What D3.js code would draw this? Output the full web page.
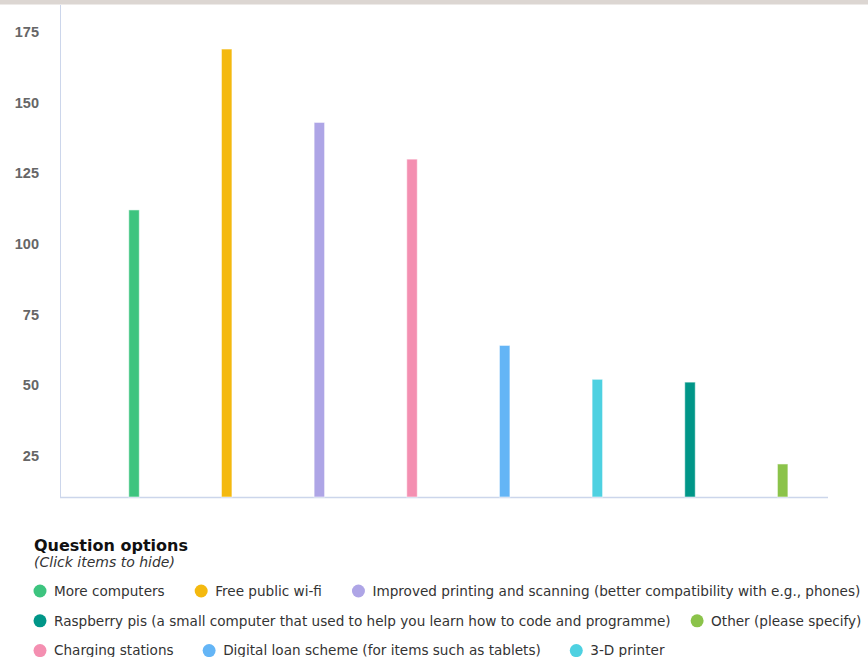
<!DOCTYPE html>
<html>
<head>
<meta charset="utf-8">
<script src="https://cdn.jsdelivr.net/npm/d3@7"></script>
<style>
  html, body { margin: 0; padding: 0; background: #fff; }
  svg { display: block; }
</style>
</head>
<body>
<svg id="chart" width="868" height="657"></svg>
<script>
// Survey answers: how many respondents picked each option
const categories = [
  "More computers",
  "Free public wi-fi",
  "Improved printing and scanning (better compatibility with e.g., phones)",
  "Charging stations",
  "Digital loan scheme (for items such as tablets)",
  "3-D printer",
  "Raspberry pis (a small computer that used to help you learn how to code and programme)",
  "Other (please specify)"
];
const values = [112, 169, 143, 130, 64, 52, 51, 22];
const colors = ["#3dc47f", "#f4b90f", "#aea5e6", "#f48fb1", "#64b5f6", "#4ed1e1", "#009688", "#8bc34a"];
const yTicks = [25, 50, 75, 100, 125, 150, 175];
// Legend entries, row by row
const legendRows = [[0, 1, 2], [6, 7], [3, 4, 5]];

const svg = d3.select("#chart");
const W = 868;

// top strip
svg.append("rect").attr("x", 0).attr("y", 0).attr("width", W).attr("height", 4.5).attr("fill", "#dcd6d2");

const plot = { left: 60, right: 828, top: 5, bottom: 497 };

const y = d3.scaleLinear().domain([10.3, 184.6]).range([plot.bottom, plot.top]);
const x = d3.scalePoint().domain(d3.range(categories.length)).range([87.7, 829]).padding(0.5);
const barW = 10.5;

// y tick labels
const yAxis = d3.axisLeft(y).tickValues(yTicks).tickSize(0).tickPadding(0);
const gy = svg.append("g").attr("transform", "translate(39,0)").call(yAxis);
gy.select(".domain").remove();
gy.selectAll("text")
  .attr("font-family", "'Liberation Sans', Arial, sans-serif")
  .attr("font-size", 14.5)
  .attr("font-weight", "bold")
  .attr("fill", "#666");

// axis lines
svg.append("line").attr("x1", plot.left + 0.5).attr("x2", plot.left + 0.5)
  .attr("y1", plot.top).attr("y2", plot.bottom)
  .attr("stroke", "#ccd6eb").attr("stroke-width", 1);
svg.append("line").attr("x1", plot.left).attr("x2", plot.right)
  .attr("y1", plot.bottom + 0.5).attr("y2", plot.bottom + 0.5)
  .attr("stroke", "#ccd6eb").attr("stroke-width", 1.5);

// bars
svg.append("g").selectAll("rect")
  .data(values)
  .join("rect")
  .attr("x", (d, i) => x(i) - barW / 2)
  .attr("width", barW)
  .attr("y", d => y(d))
  .attr("height", d => plot.bottom - y(d))
  .attr("fill", (d, i) => colors[i])
  .attr("stroke", "#fff")
  .attr("stroke-opacity", 0.55)
  .attr("stroke-width", 1);

// legend
const legendFont = "'DejaVu Sans', Verdana, sans-serif";
const lg = svg.append("g");
lg.append("text").attr("x", 34).attr("y", 551)
  .attr("font-family", legendFont).attr("font-size", 16).attr("font-weight", "bold")
  .attr("fill", "#111").text("Question options");
lg.append("text").attr("x", 34).attr("y", 567)
  .attr("font-family", legendFont).attr("font-size", 14).attr("font-style", "italic")
  .attr("fill", "#333").text("(Click items to hide)");

const rowY0 = 591, rowH = 29.8, startX = 33.5;
const rowGaps = [30, 20, 29];
legendRows.forEach((row, r) => {
  let cx = startX;
  const cy = rowY0 + r * rowH;
  row.forEach(idx => {
    const item = lg.append("g").attr("transform", `translate(${cx},${cy})`);
    item.append("circle").attr("cx", 6.5).attr("cy", 0).attr("r", 6.5).attr("fill", colors[idx]);
    const t = item.append("text")
      .attr("x", 20.5).attr("y", 0).attr("dy", "0.35em")
      .attr("font-family", legendFont).attr("font-size", 13.6)
      .attr("fill", "#333").text(categories[idx]);
    cx += 20.5 + t.node().getComputedTextLength() + rowGaps[r];
  });
});
</script>
</body>
</html>
